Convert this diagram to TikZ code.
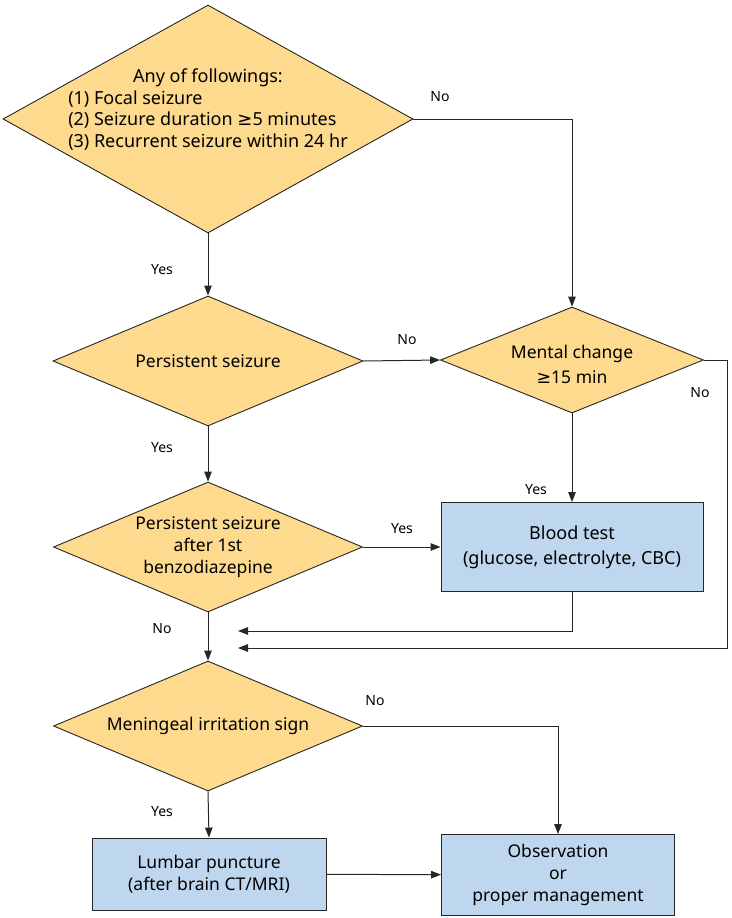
\documentclass[tikz,border=0pt]{standalone}
\usepackage{fontspec}
\setmainfont{Noto Sans}
\newfontfamily\symfont{DejaVu Sans}
\usetikzlibrary{arrows.meta,positioning,shapes.geometric}
\definecolor{decfill}{RGB}{254,218,142}
\definecolor{actfill}{RGB}{190,215,238}
\newcommand{\geqsym}{{\symfont ≥}}
\tikzset{
  dec/.style ={diamond,draw=black!85,fill=decfill,line width=0.9pt,inner sep=0pt,align=center,font=\fontsize{17.5}{22}\selectfont},
  act/.style ={rectangle,draw=black!85,fill=actfill,line width=0.9pt,inner sep=0pt,align=center,font=\fontsize{17.5}{22}\selectfont},
  lbl/.style ={font=\fontsize{14}{16}\selectfont},
  ar/.style  ={-{Triangle[length=10pt,width=7.5pt]},line width=1pt,black!85},
}

\begin{document}
\begin{tikzpicture}[x=1pt,y=-1pt]
  \useasboundingbox (0,0) rectangle (731,918);
  % decisions
  \node[dec,aspect=1.8,minimum width=410pt,minimum height=228pt] (d1) at (208,119)
    {\smash{\raisebox{4pt}{\fontsize{18}{21.5}\selectfont\begin{tabular}[c]{@{}l@{}}\multicolumn{1}{@{}c@{}}{Any of followings:}\\
     (1) Focal seizure\\ (2) Seizure duration \geqsym5 minutes\\ (3) Recurrent seizure within 24 hr\end{tabular}}}};
  \node[dec,aspect=2.38,minimum width=310pt,minimum height=130pt] (d2) at (208,361){Persistent seizure};
  \node[dec,aspect=2.48,minimum width=263pt,minimum height=106pt,font=\fontsize{17.5}{25}\selectfont] (d3) at (572,360)
    {\smash{\raisebox{-10pt}{\begin{tabular}[c]{@{}c@{}}Mental change\\ \geqsym15 min\end{tabular}}}};
  \node[dec,aspect=2.38,minimum width=309pt,minimum height=130pt] (d4) at (208,547){Persistent seizure\\ after 1st\\ benzodiazepine};
  \node[dec,aspect=2.38,minimum width=309pt,minimum height=130pt] (d5) at (208,726){Meningeal irritation sign};
  % actions
  \node[act,minimum width=262pt,minimum height=89pt,font=\fontsize{18}{25}\selectfont] (blood) at (572,547){Blood test\\ (glucose, electrolyte, CBC)};
  \node[act,minimum width=234pt,minimum height=72pt] (lumbar) at (209,874){Lumbar puncture\\ (after brain CT/MRI)};
  \node[act,minimum width=233pt,minimum height=81pt] (obs) at (558,875){Observation\\ or\\ proper management};
  % merge points
  \coordinate (j1) at (238,631);
  \coordinate (j2) at (238,648);
  % connectors
  \draw[ar] (d1.south) -- (d2.north);
  \draw[ar] (d1.east) -| (d3.north);
  \draw[ar] (d2.east) -- (d3.west);
  \draw[ar] (d2.south) -- (d4.north);
  \draw[ar] (d3.south) -- (blood.north);
  \draw[ar] (d4.east) -- (blood.west);
  \draw[ar] (d4.south) -- (d5.north);
  \draw[ar] (blood.south) |- (j1);
  \draw[ar] (d3.east) -- ++(24,0) |- (j2);
  \draw[ar] (d5.south) -- (lumbar.north);
  \draw[ar] (d5.east) -| (obs.north);
  \draw[ar] (lumbar) -- (obs);
  % branch labels
  \node[lbl] (y1) at (162,270){Yes};
  \node[lbl] (n1) at (440,97){No};
  \node[lbl] (n2) at (407,340){No};
  \node[lbl] (y2) at (162,448){Yes};
  \node[lbl] (n3) at (700,393){No};
  \node[lbl] (y3) at (536,490){Yes};
  \node[lbl] (y4) at (402,529){Yes};
  \node[lbl] (n4) at (162,629){No};
  \node[lbl] (n5) at (375,701){No};
  \node[lbl] (y5) at (162,812){Yes};
\end{tikzpicture}
\end{document}
